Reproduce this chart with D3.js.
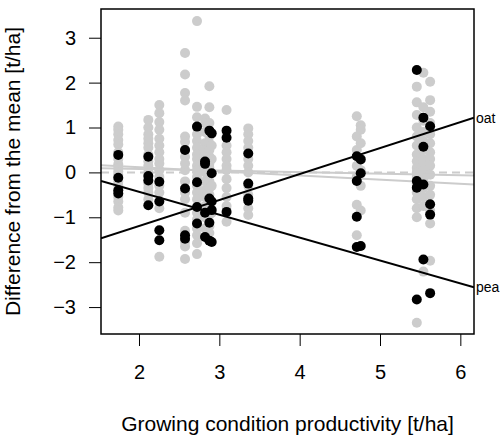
<!DOCTYPE html>
<html>
<head>
<meta charset="utf-8">
<script src="https://cdn.jsdelivr.net/npm/d3@7"></script>
<style>
  body { margin: 0; background: #fff; }
  svg { display: block; }
  text { font-family: "Liberation Sans", Arial, Helvetica, sans-serif; fill: #000; }
  .axis text { font-size: 20px; }
  .axis line { stroke: #000; }
</style>
</head>
<body>
<svg id="chart" width="503" height="437"></svg>
<script>
// site productivity for each group of plots (x position of a column of points)
var colX = [1.742, 2.116, 2.253, 2.573, 2.722, 2.822, 2.876, 2.905, 3.09, 3.36, 4.711, 4.76, 5.458, 5.54, 5.624];

// other crops (grey), one list per column
var greyY = [
  [1.02, 0.95, 0.85, 0.72, 0.62, 0.45, 0.3, 0.18, 0.1, 0.02, -0.05, -0.2, -0.3, -0.55, -0.65, -0.78, -0.85],
  [1.17, 1.0, 0.85, 0.75, 0.65, 0.55, 0.4, 0.25, 0.15, 0.0, -0.25, -0.35, -0.45, -0.6],
  [1.5, 1.32, 1.12, 0.95, 0.75, 0.6, 0.45, 0.3, 0.2, 0.05, -0.1, -0.3, -0.45, -0.8, -1.88],
  [2.66, 2.18, 1.77, 1.6, 0.8, 0.68, 0.5, 0.35, 0.2, 0.05, -0.2, -0.45, -0.6, -0.9, -1.3, -1.55, -1.65, -1.93],
  [3.37, 1.46, 1.23, 1.0, 0.85, 0.7, 0.55, 0.4, 0.3, 0.15, 0.05, -0.1, -0.3, -0.45, -0.6, -0.9, -1.05, -1.25, -1.4, -1.58, -1.82],
  [1.2, 1.1, 0.9, 0.65, 0.5, 0.35, 0.0, -0.2, -0.4, -0.55, -0.75, -1.0, -1.25],
  [1.92, 1.45, 1.1, 0.8, 0.65, 0.5, 0.35, 0.2, 0.1, -0.05, -0.2, -0.35, -0.5, -0.7, -0.95, -1.2, -1.35],
  [0.6, 0.3, -0.3, -0.9],
  [1.39, 0.6, 0.45, 0.3, 0.15, 0.05, -0.15, -0.35, -0.55, -0.75, -1.1],
  [0.98, 0.85, 0.7, 0.55, 0.3, 0.15, 0.0, -0.3, -0.5, -0.8, -0.95],
  [1.25, 0.8, 0.5, 0.15, -0.1, -0.72, -1.4],
  [1.05, 0.95, 0.65, 0.3, 0.05, -0.3, -0.85],
  [1.91, 1.56, 1.28, 1.0, 0.8, 0.6, 0.4, 0.25, 0.1, 0.0, -0.1, -0.25, -0.45, -0.6, -0.8, -1.0, -3.35],
  [2.22, 1.45, 1.15, 0.9, 0.7, 0.5, 0.3, 0.2, 0.05, -0.15, -0.35, -0.55, -0.75, -2.21],
  [2.02, 1.61, 1.35, 1.1, 0.85, 0.65, 0.45, 0.3, 0.15, -0.05, -0.3, -0.5, -0.85, -1.14, -1.97]
];

// oat and pea (black)
var blackY = [
  [0.39, -0.12, -0.40, -0.47],
  [0.35, -0.08, -0.18, -0.73],
  [-0.21, -0.65, -1.29, -1.51],
  [0.5, -0.36, -1.40, -1.48],
  [1.02, -0.22, -0.77, -1.14],
  [0.24, 0.19, -0.9, -1.44],
  [0.93, -0.58, -1.12, -1.52],
  [0.87, -0.02, -0.65, -0.84, -1.55],
  [0.93, 0.77, -0.88],
  [0.42, -0.25, -0.58, -0.63],
  [0.36, -0.19, -0.99, -1.66],
  [0.29, -0.02, -1.64],
  [2.28, -0.19, -0.34, -2.83],
  [1.22, 0.57, -0.27, -1.94],
  [1.03, -0.71, -0.94, -2.69]
];

// fitted lines: intercept, slope
var greyFits = [[0.301, -0.0926], [0.143, -0.0345]];
var blackFitNames = ["oat", "pea"];
var blackFits = [[-2.354, 0.579], [0.589, -0.510]];

var xTicks = [2, 3, 4, 5, 6];
var yTicks = [-3, -2, -1, 0, 1, 2, 3];

var svg = d3.select("#chart");
var pLeft = 101, pRight = 474, pTop = 9, pBottom = 334;
var grey = "#cccccc";

var x = d3.scaleLinear().domain([1.527, 6.17]).range([pLeft, pRight]);
var y = d3.scaleLinear().domain([-3.60, 3.64]).range([pBottom, pTop]);

svg.append("clipPath").attr("id", "plotclip")
  .append("rect")
  .attr("x", pLeft).attr("y", pTop)
  .attr("width", pRight - pLeft).attr("height", pBottom - pTop);

var plot = svg.append("g").attr("clip-path", "url(#plotclip)");

function flatten(vals) {
  var out = [];
  vals.forEach(function (col, i) {
    col.forEach(function (v) { out.push({ x: colX[i], y: v }); });
  });
  return out;
}

// reference line at zero
plot.append("line")
  .attr("x1", pLeft).attr("x2", pRight)
  .attr("y1", y(0)).attr("y2", y(0))
  .attr("stroke", grey).attr("stroke-width", 2)
  .attr("stroke-dasharray", "8,5");

plot.selectAll(".grey-pt")
  .data(flatten(greyY))
  .enter().append("circle")
  .attr("class", "grey-pt")
  .attr("cx", d => x(d.x)).attr("cy", d => y(d.y))
  .attr("r", 5).attr("fill", grey);

var xd = x.domain();

plot.selectAll(".grey-fit")
  .data(greyFits)
  .enter().append("line")
  .attr("class", "grey-fit")
  .attr("x1", x(xd[0])).attr("x2", x(xd[1]))
  .attr("y1", d => y(d[0] + d[1] * xd[0]))
  .attr("y2", d => y(d[0] + d[1] * xd[1]))
  .attr("stroke", grey).attr("stroke-width", 2);

plot.selectAll(".black-pt")
  .data(flatten(blackY))
  .enter().append("circle")
  .attr("class", "black-pt")
  .attr("cx", d => x(d.x)).attr("cy", d => y(d.y))
  .attr("r", 5).attr("fill", "#000");

plot.selectAll(".black-fit")
  .data(blackFits)
  .enter().append("line")
  .attr("class", "black-fit")
  .attr("x1", x(xd[0])).attr("x2", x(xd[1]))
  .attr("y1", d => y(d[0] + d[1] * xd[0]))
  .attr("y2", d => y(d[0] + d[1] * xd[1]))
  .attr("stroke", "#000").attr("stroke-width", 2);

// line labels at the right edge
svg.selectAll(".fit-label")
  .data(blackFits)
  .enter().append("text")
  .attr("class", "fit-label")
  .attr("x", pRight + 2)
  .attr("y", d => y(d[0] + d[1] * xd[1]))
  .attr("dy", "0.35em")
  .style("font-size", "14px")
  .text((d, i) => blackFitNames[i]);

// axes
svg.append("g")
  .attr("class", "axis")
  .attr("transform", `translate(0, ${pBottom})`)
  .call(d3.axisBottom(x).tickValues(xTicks).tickSize(12).tickPadding(19).tickFormat(d3.format("d")))
  .call(g => g.select(".domain").remove())
  .call(g => g.selectAll("text").attr("fill", "#000"));

svg.append("g")
  .attr("class", "axis")
  .attr("transform", `translate(${pLeft}, 0)`)
  .call(d3.axisLeft(y).tickValues(yTicks).tickSize(12).tickPadding(13).tickFormat(d3.format("d")))
  .call(g => g.select(".domain").remove())
  .call(g => g.selectAll("text").attr("fill", "#000"));

// frame
svg.append("rect")
  .attr("x", pLeft).attr("y", pTop)
  .attr("width", pRight - pLeft).attr("height", pBottom - pTop)
  .attr("fill", "none").attr("stroke", "#000").attr("stroke-width", 1.5);

svg.append("text")
  .attr("x", (pLeft + pRight) / 2).attr("y", 431)
  .attr("text-anchor", "middle")
  .style("font-size", "21px")
  .text("Growing condition productivity [t/ha]");

svg.append("text")
  .attr("transform", `translate(20, ${(pTop + pBottom) / 2}) rotate(-90)`)
  .attr("text-anchor", "middle")
  .style("font-size", "21px")
  .text("Difference from the mean [t/ha]");
</script>
</body>
</html>
